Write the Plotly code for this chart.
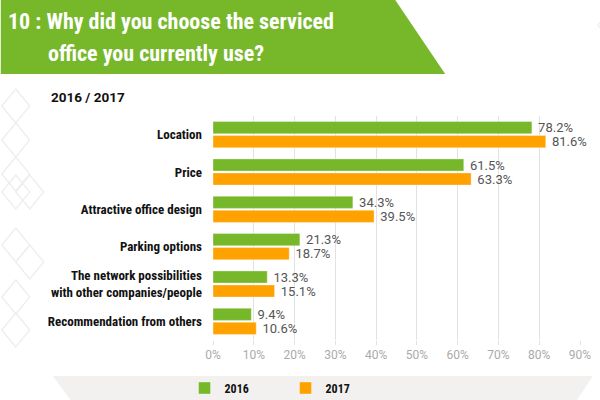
import plotly.graph_objects as go

categories = ["Location", "Price", "Attractive office design", "Parking options",
              "The network possibilities<br>with other companies/people", "Recommendation from others"]
values_2016 = [78.2, 61.5, 34.3, 21.3, 13.3, 9.4]
values_2017 = [81.6, 63.3, 39.5, 18.7, 15.1, 10.6]
series_names = ["2016", "2017"]
tick_values = [0, 10, 20, 30, 40, 50, 60, 70, 80, 90]
tick_labels = ["0%", "10%", "20%", "30%", "40%", "50%", "60%", "70%", "80%", "90%"]

GREEN = "#76b82a"
ORANGE = "#ffa200"
W, H = 600, 400
ML, MR, MT, MB = 212.5, 20, 116, 60
PW, PH = W - ML - MR, H - MT - MB

def px(x):
    return (x - ML) / PW

def py(y):
    return 1 - (y - MT) / PH

def poly(points):
    return "M" + " L".join(f"{px(a):.4f},{py(b):.4f}" for a, b in points) + " Z"

COND = "Roboto Condensed, Liberation Sans Narrow, DejaVu Sans Condensed, Roboto, sans-serif"

fig = go.Figure()
for name, vals, col in [(series_names[0], values_2016, GREEN), (series_names[1], values_2017, ORANGE)]:
    fig.add_trace(go.Bar(
        y=categories, x=vals, name=name, orientation="h",
        marker=dict(color=col, line=dict(color="rgba(255,255,255,0.35)", width=1)),
        texttemplate=" %{x:.1f}%", textposition="outside", cliponaxis=False,
        constraintext="none",
        textfont=dict(family="Roboto, sans-serif", size=13, color="#555555"),
    ))

shapes = []
# title band
shapes.append(dict(type="path", xref="paper", yref="paper", layer="below",
                   path=poly([(0, 0), (395, 0), (445, 74), (0, 74)]),
                   fillcolor=GREEN, line=dict(width=0)))
# legend band
shapes.append(dict(type="path", xref="paper", yref="paper", layer="below",
                   path=poly([(52, 376), (600, 376), (593, 376), (577, 400), (70, 400)]),
                   fillcolor="#f2f1ef", line=dict(width=0)))
# decorative diamonds
diamonds = [(15, 106), (15, 140), (15, 174), (15, 192), (29, 192), (15, 245), (29, 262),
            (15, 297), (15, 330), (612, 25)]
DW, DH = 28, 34
for cx, cy in diamonds:
    shapes.append(dict(type="path", xref="paper", yref="paper", layer="below",
                       path=poly([(cx, cy - DH / 2), (cx + DW / 2, cy), (cx, cy + DH / 2), (cx - DW / 2, cy)]),
                       fillcolor="rgba(0,0,0,0)", line=dict(color="#eeeeee", width=1.3)))

annotations = [
    dict(text="10 : Why did you choose the serviced", x=px(5), y=py(22), xref="paper", yref="paper",
         xanchor="left", yanchor="middle", showarrow=False,
         font=dict(family=COND, size=22, color="white", weight="bold")),
    dict(text="office you currently use?", x=px(45), y=py(53), xref="paper", yref="paper",
         xanchor="left", yanchor="middle", showarrow=False,
         font=dict(family=COND, size=22, color="white", weight="bold")),
    dict(text="2016 / 2017", x=px(48), y=py(97), xref="paper", yref="paper",
         xanchor="left", yanchor="middle", showarrow=False,
         font=dict(family="Roboto, sans-serif", size=13.5, color="#111111", weight="bold")),
]

fig.update_layout(
    width=W, height=H,
    margin=dict(l=ML, r=MR, t=MT, b=MB, autoexpand=False),
    paper_bgcolor="white", plot_bgcolor="white",
    barmode="group", bargap=0.25, bargroupgap=0.13,
    shapes=shapes, annotations=annotations,
    showlegend=True,
    legend=dict(orientation="h", x=px(184), y=py(388), xanchor="left", yanchor="middle",
                entrywidth=56, entrywidthmode="pixels", bgcolor="rgba(0,0,0,0)",
                font=dict(family=COND, size=12, color="#111111", weight="bold")),
    font=dict(family="Roboto, sans-serif"),
)
fig.update_xaxes(range=[0, 90], tickvals=tick_values, ticktext=tick_labels,
                 showgrid=True, gridcolor="#e2e2e2", gridwidth=1, zeroline=False,
                 ticks="outside", ticklen=4, tickcolor="#e2e2e2",
                 tickfont=dict(family="Roboto, sans-serif", size=12, color="#aaaaaa"))
fig.update_yaxes(autorange="reversed", showgrid=False, ticks="", ticklen=0,
                 tickfont=dict(family=COND, size=13, color="#111111", weight="bold"),
                 ticklabelstandoff=10)

fig.write_html("out.html", config={"displayModeBar": False},
               post_script="document.body.style.margin='0';document.body.style.overflow='hidden';")
